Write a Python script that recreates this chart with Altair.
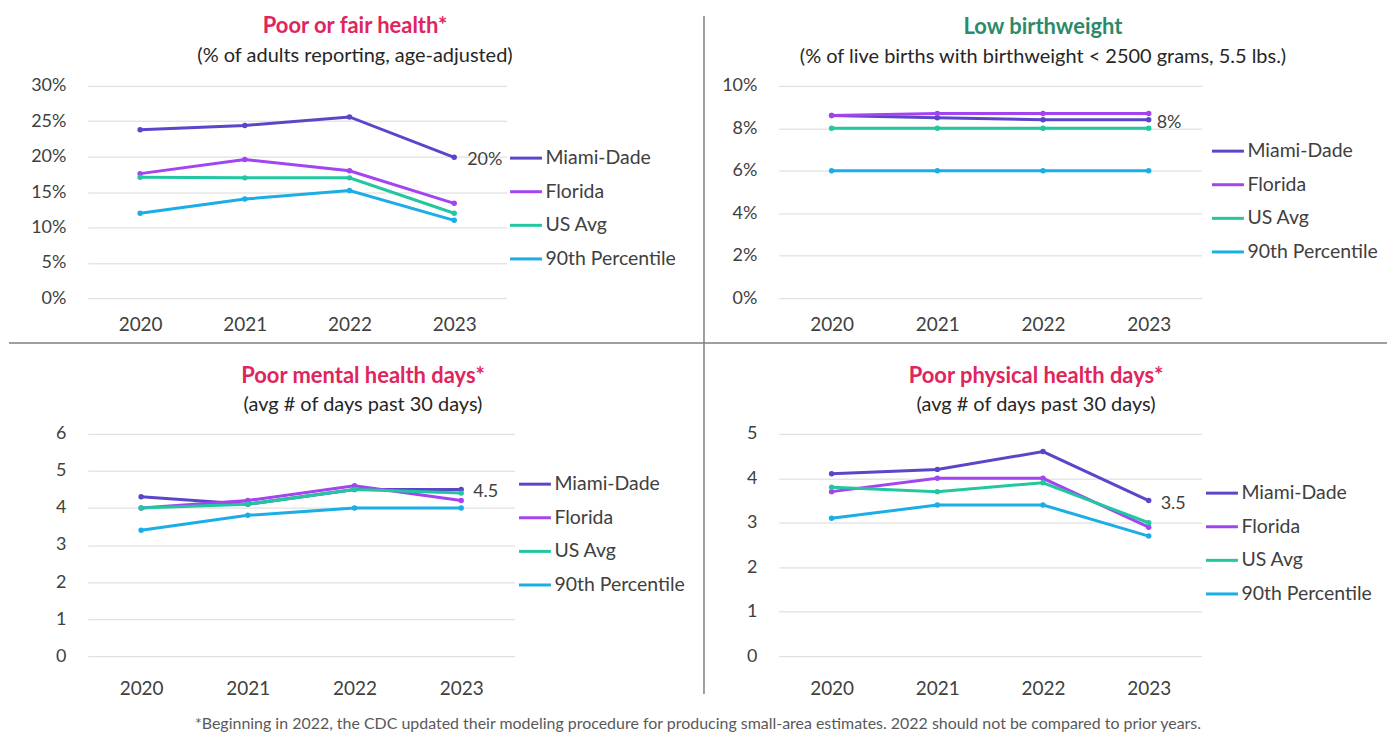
import altair as alt
import pandas as pd

FONT = "Lato"

years = ["2020", "2021", "2022", "2023"]
series = ["Miami-Dade", "Florida", "US Avg", "90th Percentile"]
colors = ["#5B46C9", "#A443F0", "#22C7A0", "#1BADE6"]

# Poor or fair health (% of adults)
fair_md = [23.8, 24.4, 25.6, 19.9]
fair_fl = [17.6, 19.6, 18.0, 13.4]
fair_us = [17.1, 17.0, 17.0, 12.0]
fair_p90 = [12.0, 14.0, 15.2, 11.0]

# Low birthweight (% of live births)
lbw_md = [8.6, 8.5, 8.4, 8.4]
lbw_fl = [8.6, 8.7, 8.7, 8.7]
lbw_us = [8.0, 8.0, 8.0, 8.0]
lbw_p90 = [6.0, 6.0, 6.0, 6.0]

# Poor mental health days
mh_md = [4.3, 4.1, 4.5, 4.5]
mh_fl = [4.0, 4.2, 4.6, 4.2]
mh_us = [4.0, 4.1, 4.5, 4.4]
mh_p90 = [3.4, 3.8, 4.0, 4.0]

# Poor physical health days
ph_md = [4.1, 4.2, 4.6, 3.5]
ph_fl = [3.7, 4.0, 4.0, 2.9]
ph_us = [3.8, 3.7, 3.9, 3.0]
ph_p90 = [3.1, 3.4, 3.4, 2.7]

footnote = ("*Beginning in 2022, the CDC updated their modeling procedure for producing "
            "small-area estimates. 2022 should not be compared to prior years.")

TEXT = "#404040"


def make_panel(vals, ymax, ystep, pct, label_fmt, title, subtitle, tcolor,
               w, h, title_dx, sub_pad, title_offset, leg_x, leg_y, xpad,
               lab_dx, extra=()):
    rows = []
    for s, arr in zip(series, vals):
        for yr, v in zip(years, arr):
            rows.append({"Year": yr, "Series": s, "Value": v})
    df = pd.DataFrame(rows)

    x = alt.X("Year:O", sort=years,
              scale=alt.Scale(type="point", padding=0.5),
              axis=alt.Axis(title=None, labelAngle=0, ticks=False, domain=False,
                            grid=False, labelPadding=xpad, labelFontSize=19,
                            labelFont=FONT, labelColor=TEXT))
    y = alt.Y("Value:Q",
              scale=alt.Scale(domain=[0, ymax], nice=False),
              axis=alt.Axis(title=None, values=list(range(0, ymax + 1, ystep)),
                            labelExpr=("datum.value + '%'" if pct else "datum.label"),
                            ticks=False, domain=False, gridColor="#D9D9D9",
                            labelPadding=22, labelFontSize=18, labelFont=FONT,
                            labelColor=TEXT))
    color = alt.Color("Series:N", sort=series,
                      scale=alt.Scale(domain=series, range=colors),
                      legend=alt.Legend(title=None, orient="none",
                                        legendX=leg_x, legendY=leg_y,
                                        symbolType="stroke", symbolSize=1024,
                                        symbolStrokeWidth=3, labelFontSize=19.5,
                                        labelFont=FONT, labelColor=TEXT,
                                        labelLimit=300, rowPadding=6.7,
                                        labelOffset=2))

    line = alt.Chart(df).mark_line(strokeWidth=3).encode(x=x, y=y, color=color)
    pts = alt.Chart(df).mark_point(filled=True, size=30, opacity=1).encode(
        x=x, y=y, color=color)
    lab = alt.Chart(df).transform_filter(
        "datum.Series == 'Miami-Dade' && datum.Year == '2023'"
    ).transform_calculate(
        txt=label_fmt
    ).mark_text(align="left", dx=lab_dx, dy=3, fontSize=18, font=FONT,
                color=TEXT).encode(x=x, y=y, text="txt:N")

    return alt.layer(line, pts, lab, *extra).properties(
        width=w, height=h,
        title=alt.TitleParams(text=title, subtitle=subtitle, color=tcolor,
                              font=FONT, fontSize=22, fontWeight="bold",
                              subtitleFont=FONT, subtitleFontSize=20,
                              subtitleColor="#262626", subtitlePadding=sub_pad,
                              anchor="middle", dx=title_dx, offset=title_offset))


one = pd.DataFrame({"k": [0]})
vdiv = alt.Chart(one).mark_rule(color="#7F7F7F", strokeWidth=1.5, clip=False).encode(
    x=alt.value(618), y=alt.value(-70), y2=alt.value(610))
hdiv = alt.Chart(one).mark_rule(color="#7F7F7F", strokeWidth=1.5, clip=False).encode(
    x=alt.value(-79), x2=alt.value(1303), y=alt.value(258))

p1 = make_panel([fair_md, fair_fl, fair_us, fair_p90], 30, 5, True,
                "format(datum.Value, '.0f') + '%'",
                "Poor or fair health*", "(% of adults reporting, age-adjusted)",
                "#E0245E", 420, 213, 58, 8, -52, 422, 55, 17, 13,
                extra=(vdiv, hdiv))
p2 = make_panel([lbw_md, lbw_fl, lbw_us, lbw_p90], 10, 2, True,
                "format(datum.Value, '.0f') + '%'",
                "Low birthweight",
                "(% of live births with birthweight < 2500 grams, 5.5 lbs.)",
                "#2A8A6A", 424, 213, 53, 8, 9, 433, 48, 17, 8)
p3 = make_panel([mh_md, mh_fl, mh_us, mh_p90], 6, 1, False,
                "format(datum.Value, '.1f')",
                "Poor mental health days*", "(avg # of days past 30 days)",
                "#E0245E", 428, 223, 62, 7, 9, 431, 33, 23, 12)
p4 = make_panel([ph_md, ph_fl, ph_us, ph_p90], 5, 1, False,
                "format(datum.Value, '.1f')",
                "Poor physical health days*", "(avg # of days past 30 days)",
                "#E0245E", 424, 223, 46, 7, 9, 427, 42, 23, 12)

chart = alt.concat(p1, p2, p3, p4, columns=2,
                   spacing={"row": 136, "column": 265},
                   bounds="flush").resolve_scale(color="independent").properties(
    padding={"top": 6, "left": 0, "right": 0, "bottom": 0},
    background="white",
    title=alt.TitleParams(text=footnote, orient="bottom", anchor="middle",
                          frame="bounds", font=FONT, fontSize=16,
                          fontWeight="normal", color="#595959", offset=18),
).configure_view(stroke="transparent", strokeWidth=0)

chart.save("out.html", embed_options={"renderer": "svg", "actions": False})
